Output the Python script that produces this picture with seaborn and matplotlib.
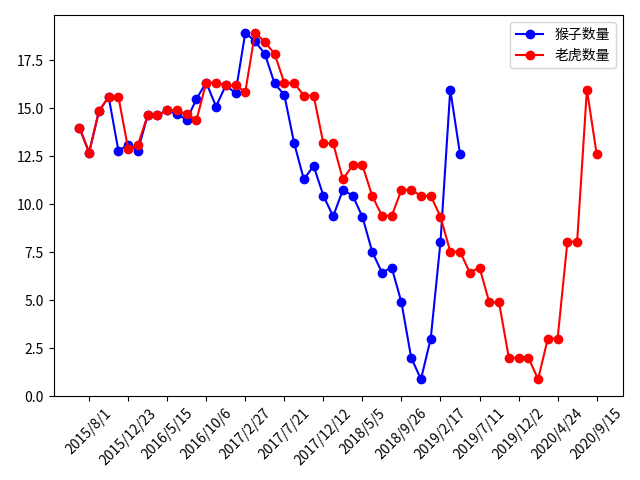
import matplotlib
matplotlib.use("Agg")
import matplotlib.pyplot as plt
import seaborn as sns
import pandas as pd

plt.rcParams['font.family'] = ['Noto Sans CJK SC', 'DejaVu Sans']
plt.rcParams['axes.unicode_minus'] = False

tick_labels = ["2015/8/1", "2015/12/23", "2016/5/15", "2016/10/6", "2017/2/27",
               "2017/7/21", "2017/12/12", "2018/5/5", "2018/9/26", "2019/2/17",
               "2019/7/11", "2019/12/2", "2020/4/24", "2020/9/15"]
tick_positions = list(range(1, 54, 4))

monkey = [14.0, 12.7, 14.85, 15.6, 12.8, 13.1, 12.8, 14.65, 14.65, 14.9,
          14.7, 14.4, 15.5, 16.35, 15.1, 16.2, 15.8, 18.95, 18.5, 17.85,
          16.3, 15.7, 13.2, 11.3, 12.0, 10.45, 9.37, 10.75, 10.45, 9.35,
          7.53, 6.44, 6.7, 4.88, 1.99, 0.88, 3.0, 8.05, 15.98, 12.62]

tiger = [14.0, 12.7, 14.85, 15.6, 15.6, 12.9, 13.1, 14.65, 14.65, 14.9,
         14.9, 14.7, 14.4, 16.35, 16.35, 16.2, 16.2, 15.86, 18.95, 18.46,
         17.85, 16.33, 16.33, 15.67, 15.67, 13.18, 13.18, 11.3, 12.04, 12.04,
         10.44, 9.4, 9.4, 10.75, 10.75, 10.44, 10.44, 9.35, 7.53, 7.53,
         6.44, 6.7, 4.88, 4.88, 2.0, 2.0, 2.0, 0.88, 3.0, 3.0,
         8.05, 8.05, 15.98, 12.62]

df_m = pd.DataFrame({"x": range(len(monkey)), "y": monkey})
df_t = pd.DataFrame({"x": range(len(tiger)), "y": tiger})

fig, ax = plt.subplots(figsize=(6.4, 4.8), dpi=100)
sns.lineplot(data=df_m, x="x", y="y", ax=ax, color="blue", marker="o",
             markersize=6, markeredgecolor="blue", markeredgewidth=1,
             linewidth=1.5, label="猴子数量")
sns.lineplot(data=df_t, x="x", y="y", ax=ax, color="red", marker="o",
             markersize=6, markeredgecolor="red", markeredgewidth=1,
             linewidth=1.5, label="老虎数量")

ax.set_xticks(tick_positions)
ax.set_xticklabels(tick_labels, rotation=45)
ax.set_xlabel("")
ax.set_ylabel("")
ax.legend(loc="upper right")
fig.subplots_adjust(left=0.0836, right=0.9727, top=0.968, bottom=0.174)
fig.savefig("out.png", dpi=100)
